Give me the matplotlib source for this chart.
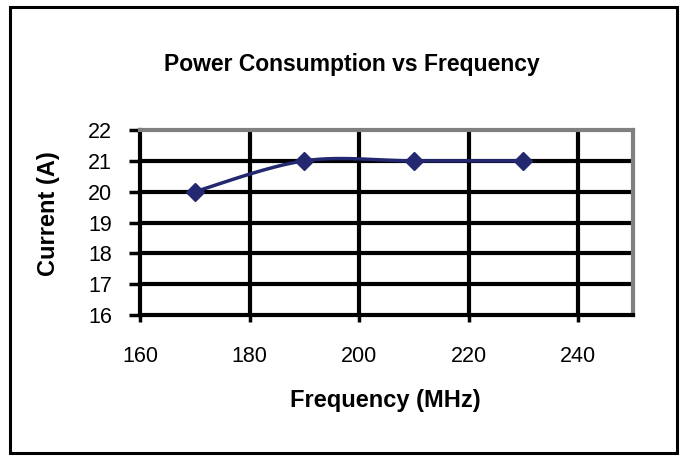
import numpy as np
import matplotlib
matplotlib.use("Agg")
import matplotlib.pyplot as plt
from matplotlib.patches import Rectangle

freq = [170, 190, 210, 230]
current = [20, 21, 21, 21]
xticks = [160, 180, 200, 220, 240]
yticks = [16, 17, 18, 19, 20, 21, 22]

plt.rcParams['font.family'] = ['Liberation Sans', 'DejaVu Sans']

W, H = 685, 459
fig = plt.figure(figsize=(W / 100, H / 100), dpi=100)
fig.patch.set_facecolor('white')

# outer border
fig.patches.append(Rectangle((10 / W, 1 - 453 / H), 667 / W, 446 / H,
                             transform=fig.transFigure, fill=False,
                             edgecolor='black', linewidth=2.2))

left, right, top, bottom = 140, 633, 130, 315
ax = fig.add_axes([left / W, 1 - bottom / H, (right - left) / W, (bottom - top) / H])
ax.set_xlim(160, 250)
ax.set_ylim(16, 22)
ax.set_xticks(xticks)
ax.set_yticks(yticks)
ax.tick_params(axis='both', direction='out', width=2.5, color='black',
               labelsize=15.5)
ax.tick_params(axis='y', length=8, pad=12)
ax.tick_params(axis='x', length=5, pad=17)

for s in ['left', 'bottom']:
    ax.spines[s].set_color('black')
    ax.spines[s].set_linewidth(3)
for s in ['top', 'right']:
    ax.spines[s].set_color('#808080')
    ax.spines[s].set_linewidth(3)

for y in yticks[1:-1]:
    ax.axhline(y, color='black', linewidth=3, zorder=1)
for x in xticks[1:]:
    ax.axvline(x, color='black', linewidth=3, zorder=1)


def smooth(xs, ys, n=40, t=1 / 6):
    xs = np.asarray(xs, float)
    ys = np.asarray(ys, float)
    px, py = [], []
    m = len(xs)
    for i in range(m - 1):
        x0, y0 = (xs[i - 1], ys[i - 1]) if i > 0 else (xs[i], ys[i])
        x1, y1 = xs[i], ys[i]
        x2, y2 = xs[i + 1], ys[i + 1]
        x3, y3 = (xs[i + 2], ys[i + 2]) if i + 2 < m else (x2, y2)
        c1x, c1y = x1 + (x2 - x0) * t, y1 + (y2 - y0) * t
        c2x, c2y = x2 - (x3 - x1) * t, y2 - (y3 - y1) * t
        s = np.linspace(0, 1, n)
        bx = (1 - s) ** 3 * x1 + 3 * (1 - s) ** 2 * s * c1x + 3 * (1 - s) * s ** 2 * c2x + s ** 3 * x2
        by = (1 - s) ** 3 * y1 + 3 * (1 - s) ** 2 * s * c1y + 3 * (1 - s) * s ** 2 * c2y + s ** 3 * y2
        px.extend(bx)
        py.extend(by)
    return px, py


sx, sy = smooth(freq, current)
navy = '#232870'
ax.plot(sx, sy, color=navy, linewidth=2.5, zorder=3, clip_on=False)
ax.plot(freq, current, linestyle='none', marker='D', markersize=9,
        color=navy, zorder=4, clip_on=False)

fig.text(352 / W, 1 - 64 / H, 'Power Consumption vs Frequency', ha='center',
         va='center', fontsize=16.5, fontweight='bold')
fig.text(385 / W, 1 - 401 / H, 'Frequency (MHz)', ha='center', va='center',
         fontsize=17, fontweight='bold')
fig.text(48 / W, 1 - 214 / H, 'Current (A)', ha='center', va='center',
         fontsize=17, fontweight='bold', rotation=90)

fig.savefig('out.png', dpi=100, facecolor='white')
